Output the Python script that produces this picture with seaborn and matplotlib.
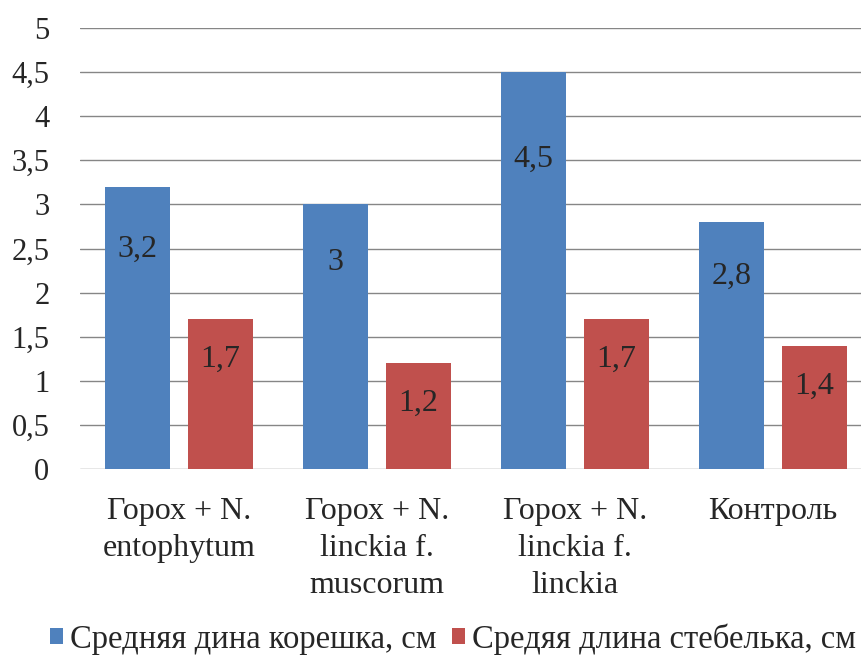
import matplotlib
matplotlib.use('Agg')
import matplotlib.pyplot as plt
import seaborn as sns
import pandas as pd
from matplotlib.patches import Patch

# ------------------------
# Данные
# ------------------------
categories = ['Горох + N.\nentophytum', 'Горох + N.\nlinckia f.\nmuscorum',
              'Горох + N.\nlinckia f.\nlinckia', 'Контроль']
root_len = [3.2, 3.0, 4.5, 2.8]
stem_len = [1.7, 1.2, 1.7, 1.4]
series = ['Средняя дина корешка, см', 'Средяя длина стебелька, см']
colors = ['#4F81BD', '#C0504D']
y_ticks = [0, 0.5, 1, 1.5, 2, 2.5, 3, 3.5, 4, 4.5, 5]

df = pd.DataFrame({
    'cat': categories * 2,
    'val': root_len + stem_len,
    'series': [series[0]] * 4 + [series[1]] * 4,
})

sns.set_style('white')
plt.rcParams['font.family'] = ['Liberation Serif', 'DejaVu Serif']

fig = plt.figure(figsize=(8.61, 6.57), dpi=100)
ax = fig.add_axes([80 / 861, 188 / 657, 781 / 861, 441 / 657])

ax.set_axisbelow(True)
for y in y_ticks:
    ax.axhline(y, color='#868686', linewidth=1, zorder=0)

sns.barplot(data=df, x='cat', y='val', hue='series', palette=colors,
            width=0.838, gap=0.205, saturation=1, ax=ax, legend=False,
            edgecolor='none')

ax.set_xlim(-0.5, -0.5 + 781 / 198)
ax.set_ylim(0, 5)
ax.set_yticks(y_ticks)
ax.set_yticklabels([f'{t:g}'.replace('.', ',') for t in y_ticks], fontsize=22)
ax.tick_params(axis='y', length=0, pad=22)
ax.tick_params(axis='x', length=0, pad=20)
ax.set_xticks(range(len(categories)))
ax.set_xticklabels(categories, fontsize=23, linespacing=1.38)
ax.set_xlabel('')
ax.set_ylabel('')
for s in ax.spines.values():
    s.set_visible(False)

# подписи значений
for i, patch in enumerate(ax.patches[:8]):
    v = patch.get_height()
    ypos = v * 0.78 if i < 4 else v - 0.46
    ax.text(patch.get_x() + patch.get_width() / 2, ypos,
            f'{v:g}'.replace('.', ','), ha='center', va='center', fontsize=23)

handles = [Patch(facecolor=c, edgecolor='none') for c in colors]
fig.legend(handles, series, loc='center', bbox_to_anchor=(453 / 861, 1 - 639 / 657),
           ncol=2, frameon=False, fontsize=23.5, handlelength=0.4, handleheight=0.4,
           handletextpad=0.2, columnspacing=0.5)

fig.savefig('out.png', dpi=100)
